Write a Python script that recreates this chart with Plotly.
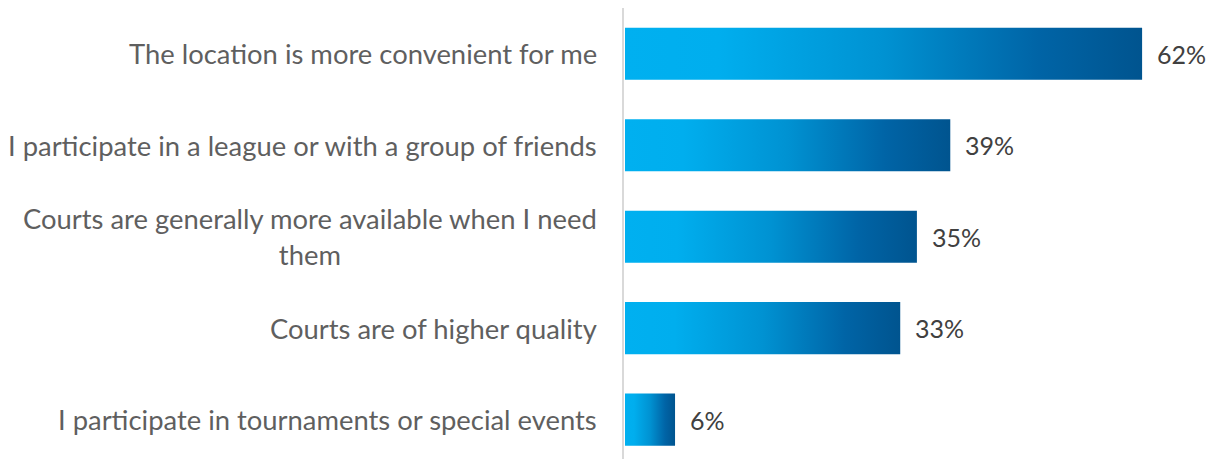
import plotly.graph_objects as go

# Survey responses: reasons for choosing a facility
categories = [
    "The location is more convenient for me",
    "I participate in a league or with a group of friends",
    "Courts are generally more available when I need<br>them",
    "Courts are of higher quality",
    "I participate in tournaments or special events",
]
values = [62, 39, 35, 33, 6]
value_labels = ["62%", "39%", "35%", "33%", "6%"]

BAR_HALF = 0.285
gradient = [
    [0.0, "#00B0F0"],
    [0.18, "#00AEEE"],
    [0.5, "#0092D2"],
    [0.8, "#0064A6"],
    [1.0, "#00548F"],
]

fig = go.Figure()

for i, (cat, val) in enumerate(zip(categories, values)):
    # each bar is a filled rectangle so it can carry its own horizontal gradient
    fig.add_trace(go.Scatter(
        x=[0, val, val, 0, 0],
        y=[i - BAR_HALF, i - BAR_HALF, i + BAR_HALF, i + BAR_HALF, i - BAR_HALF],
        mode="lines",
        line=dict(width=0),
        fill="toself",
        fillgradient=dict(type="horizontal", colorscale=gradient),
        hoverinfo="skip",
        showlegend=False,
    ))

annotations = []
for i, (cat, val, lab) in enumerate(zip(categories, values, value_labels)):
    annotations.append(dict(
        x=0, xref="paper", y=i, yref="y",
        text=cat, showarrow=False,
        xanchor="right", yanchor="middle", align="center",
        xshift=-25,
        font=dict(family="Lato", size=27.4, color="#5F5F5F"),
    ))
    annotations.append(dict(
        x=val, xref="x", y=i, yref="y",
        text=lab, showarrow=False,
        xanchor="left", yanchor="middle",
        xshift=13,
        font=dict(family="Lato", size=25, color="#404040"),
    ))

fig.update_layout(
    width=1217, height=459,
    margin=dict(l=624, r=0, t=8, b=0),
    paper_bgcolor="white", plot_bgcolor="white",
    xaxis=dict(range=[-0.12, 70.98], visible=False, fixedrange=True),
    yaxis=dict(
        range=[4.43, -0.5], showgrid=False, zeroline=False,
        showticklabels=False, ticks="",
        showline=True, linecolor="#D9D9D9", linewidth=2,
    ),
    annotations=annotations,
)

fig.write_html("out.html")
